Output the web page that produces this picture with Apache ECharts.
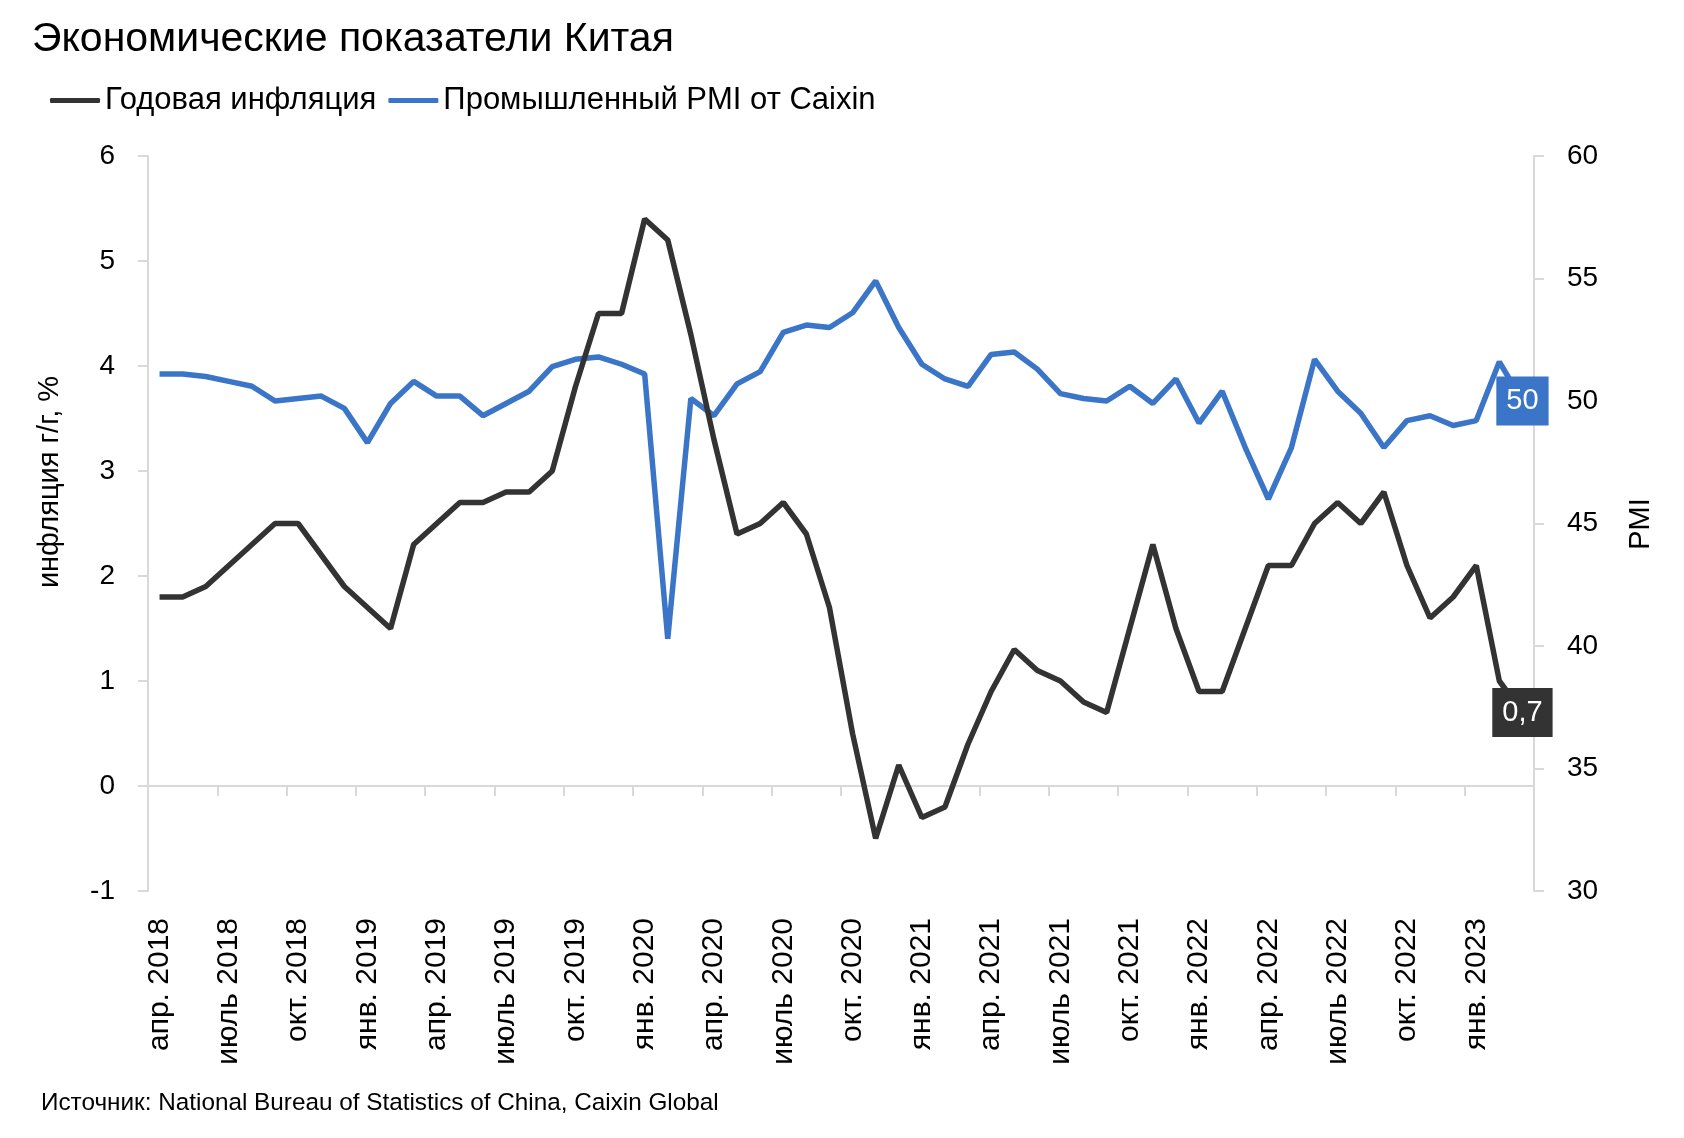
<!DOCTYPE html>
<html>
<head>
<meta charset="utf-8">
<script src="https://cdn.jsdelivr.net/npm/echarts@6/dist/echarts.min.js"></script>
<style>
html,body{margin:0;padding:0;background:#ffffff;}
#chart{width:1684px;height:1138px;}
</style>
</head>
<body>
<div id="chart"></div>
<script>
const titleText = 'Экономические показатели Китая';
const sourceText = 'Источник: National Bureau of Statistics of China, Caixin Global';
const inflationName = 'Годовая инфляция';
const pmiName = 'Промышленный PMI от Caixin';
const leftAxisName = 'инфляция г/г, %';
const rightAxisName = 'PMI';

const categories = [
  'апр. 2018','май 2018','июнь 2018','июль 2018','авг. 2018','сент. 2018','окт. 2018','нояб. 2018','дек. 2018',
  'янв. 2019','февр. 2019','март 2019','апр. 2019','май 2019','июнь 2019','июль 2019','авг. 2019','сент. 2019','окт. 2019','нояб. 2019','дек. 2019',
  'янв. 2020','февр. 2020','март 2020','апр. 2020','май 2020','июнь 2020','июль 2020','авг. 2020','сент. 2020','окт. 2020','нояб. 2020','дек. 2020',
  'янв. 2021','февр. 2021','март 2021','апр. 2021','май 2021','июнь 2021','июль 2021','авг. 2021','сент. 2021','окт. 2021','нояб. 2021','дек. 2021',
  'янв. 2022','февр. 2022','март 2022','апр. 2022','май 2022','июнь 2022','июль 2022','авг. 2022','сент. 2022','окт. 2022','нояб. 2022','дек. 2022',
  'янв. 2023','февр. 2023','март 2023'
];

const inflation = [
  1.8,1.8,1.9,2.1,2.3,2.5,2.5,2.2,1.9,
  1.7,1.5,2.3,2.5,2.7,2.7,2.8,2.8,3.0,3.8,4.5,4.5,
  5.4,5.2,4.3,3.3,2.4,2.5,2.7,2.4,1.7,0.5,-0.5,0.2,
  -0.3,-0.2,0.4,0.9,1.3,1.1,1.0,0.8,0.7,1.5,2.3,1.5,
  0.9,0.9,1.5,2.1,2.1,2.5,2.7,2.5,2.8,2.1,1.6,1.8,
  2.1,1.0,0.7
];

const pmi = [
  51.1,51.1,51.0,50.8,50.6,50.0,50.1,50.2,49.7,
  48.3,49.9,50.8,50.2,50.2,49.4,49.9,50.4,51.4,51.7,51.8,51.5,
  51.1,40.3,50.1,49.4,50.7,51.2,52.8,53.1,53.0,53.6,54.9,53.0,
  51.5,50.9,50.6,51.9,52.0,51.3,50.3,50.1,50.0,50.6,49.9,50.9,
  49.1,50.4,48.1,46.0,48.1,51.7,50.4,49.5,48.1,49.2,49.4,49.0,
  49.2,51.6,50.0
];

const leftTicks = {min: -1, max: 6, interval: 1};
const rightTicks = {min: 30, max: 60, interval: 5};

const FONT = '"Liberation Sans", Arial, sans-serif';
const AXIS_GREY = '#d9d9d9';
const BLACK_LINE = '#333333';
const BLUE_LINE = '#3a75c8';

function withLastLabel(arr, bg) {
  return arr.map((v, i) => {
    if (i !== arr.length - 1) return v;
    return {
      value: v,
      label: {
        show: true,
        position: 'inside',
        formatter: p => String(p.value).replace('.', ','),
        color: '#ffffff',
        backgroundColor: bg,
        padding: [10, 10, 10, 10],
        fontSize: 29,
        fontFamily: FONT
      }
    };
  });
}

const chart = echarts.init(document.getElementById('chart'), null, {renderer: 'canvas'});

chart.setOption({
  backgroundColor: '#ffffff',
  animation: false,
  title: {
    text: titleText,
    left: 27,
    top: 14,
    textStyle: {fontFamily: FONT, fontSize: 41, fontWeight: 'normal', color: '#000000'}
  },
  legend: {
    left: 45,
    top: 80,
    icon: 'roundRect',
    itemWidth: 50,
    itemHeight: 5,
    itemGap: 12,
    textStyle: {fontFamily: FONT, fontSize: 31, color: '#000000'},
    data: [inflationName, pmiName]
  },
  grid: {left: 148, right: 150, top: 156, bottom: 247, containLabel: false},
  xAxis: [
    {
      type: 'category',
      data: categories,
      boundaryGap: true,
      axisLine: {show: true, onZero: true, onZeroAxisIndex: 0, lineStyle: {color: AXIS_GREY, width: 2}},
      axisTick: {show: true, interval: 2, length: 10, lineStyle: {color: AXIS_GREY, width: 2}},
      axisLabel: {show: false},
      splitLine: {show: false}
    },
    {
      type: 'category',
      data: categories,
      boundaryGap: true,
      position: 'bottom',
      axisLine: {show: false, onZero: false},
      axisTick: {show: false},
      axisLabel: {
        show: true, interval: 2, rotate: 90, margin: 27,
        fontFamily: FONT, fontSize: 30, color: '#000000'
      },
      splitLine: {show: false}
    }
  ],
  yAxis: [
    {
      type: 'value',
      min: leftTicks.min, max: leftTicks.max, interval: leftTicks.interval,
      position: 'left',
      axisLine: {show: true, lineStyle: {color: AXIS_GREY, width: 2}},
      axisTick: {show: true, length: 10, lineStyle: {color: AXIS_GREY, width: 2}},
      axisLabel: {margin: 33, fontFamily: FONT, fontSize: 28, color: '#000000'},
      splitLine: {show: false}
    },
    {
      type: 'value',
      min: rightTicks.min, max: rightTicks.max, interval: rightTicks.interval,
      position: 'right',
      axisLine: {show: true, lineStyle: {color: AXIS_GREY, width: 2}},
      axisTick: {show: true, length: 10, lineStyle: {color: AXIS_GREY, width: 2}},
      axisLabel: {margin: 33, fontFamily: FONT, fontSize: 28, color: '#000000'},
      splitLine: {show: false}
    }
  ],
  series: [
    {
      name: pmiName,
      type: 'line',
      xAxisIndex: 0,
      yAxisIndex: 1,
      data: withLastLabel(pmi, BLUE_LINE),
      symbol: 'circle',
      symbolSize: 0,
      showSymbol: true,
      itemStyle: {color: BLUE_LINE},
      lineStyle: {color: BLUE_LINE, width: 5.5},
      z: 2
    },
    {
      name: inflationName,
      type: 'line',
      xAxisIndex: 0,
      yAxisIndex: 0,
      data: withLastLabel(inflation, BLACK_LINE),
      symbol: 'circle',
      symbolSize: 0,
      showSymbol: true,
      itemStyle: {color: BLACK_LINE},
      lineStyle: {color: BLACK_LINE, width: 5.5},
      z: 3
    }
  ],
  graphic: [
    {
      type: 'text',
      x: 50, y: 482,
      rotation: Math.PI / 2,
      style: {
        text: leftAxisName,
        font: '29px ' + FONT,
        fill: '#000000',
        textAlign: 'center', align: 'center',
        textVerticalAlign: 'middle', verticalAlign: 'middle'
      }
    },
    {
      type: 'text',
      x: 1641, y: 524,
      rotation: Math.PI / 2,
      style: {
        text: rightAxisName,
        font: '29px ' + FONT,
        fill: '#000000',
        textAlign: 'center', align: 'center',
        textVerticalAlign: 'middle', verticalAlign: 'middle'
      }
    },
    {
      type: 'text',
      x: 41, y: 1103,
      style: {
        text: sourceText,
        font: '24.3px ' + FONT,
        fill: '#000000',
        textAlign: 'left', align: 'left',
        textVerticalAlign: 'middle', verticalAlign: 'middle'
      }
    }
  ]
});
</script>
</body>
</html>
